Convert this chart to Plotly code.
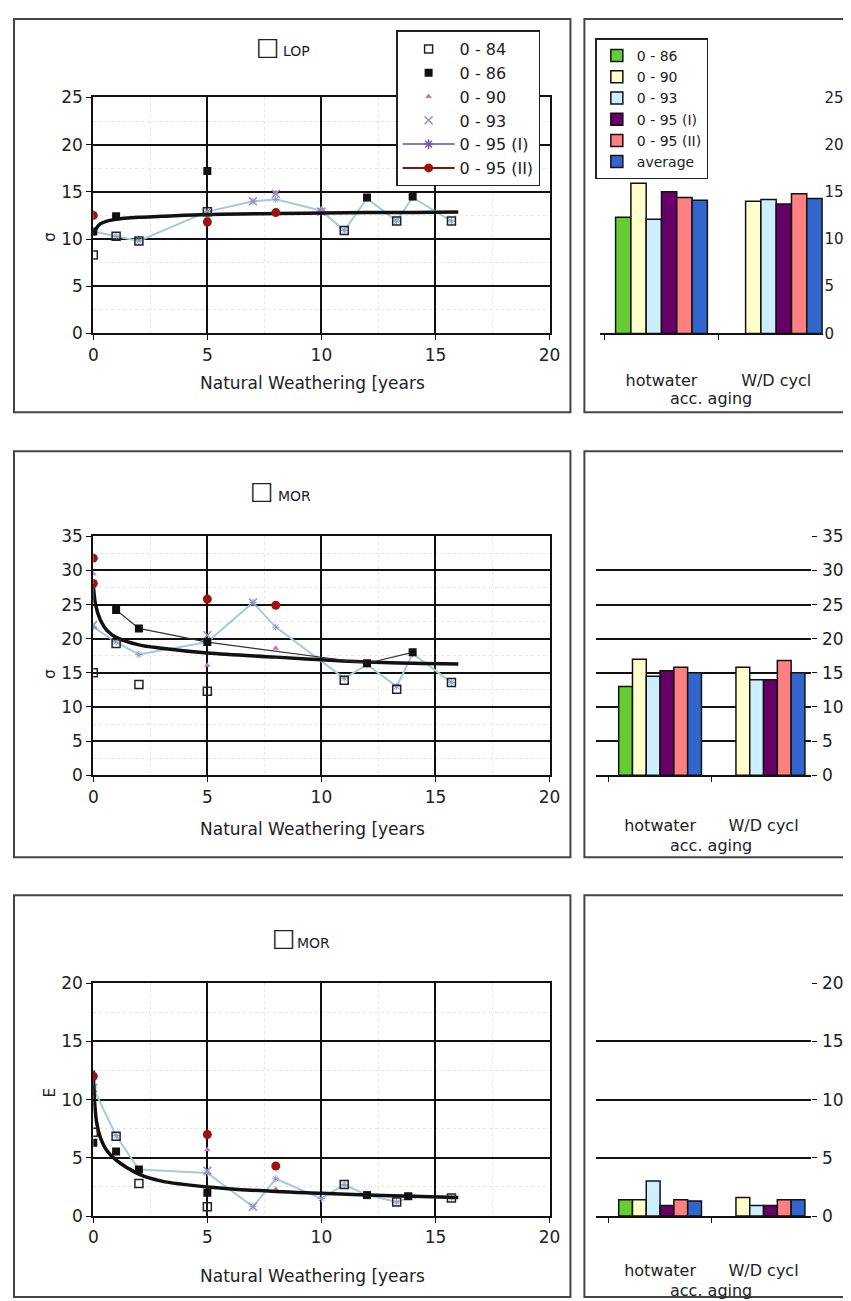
import plotly.graph_objects as go

W, H = 851, 1301
# layout positions below are written in reference-picture pixels; these helpers
# convert them to paper fractions (compensating the page offset seen in the photo)
SX, SY, OX, OY = 0.985, 0.985, 12.4, 17.5
def px(x): return ((x - OX) / SX) / W
def py(y): return 1 - ((y - OY) / SY) / H

FONT = "DejaVu Sans, Liberation Sans, Arial, sans-serif"
TXT = "#222"

# ---------------- data: row 1 (LOP) ----------------
lop_84_x = [0, 1, 2, 5, 11, 13.3, 15.7]
lop_84_y = [8.3, 10.3, 9.8, 12.9, 10.9, 11.9, 11.9]
lop_86_x = [0, 1, 5, 12, 14]
lop_86_y = [10.8, 12.4, 17.2, 14.4, 14.5]
lop_90_x = [0, 5, 8, 10]
lop_90_y = [12.8, 12.3, 14.9, 13.2]
lop_93_x = [7, 8, 10]
lop_93_y = [14.0, 14.8, 12.9]
lop_95a_x = [0, 1, 2, 5, 7, 8, 10, 11, 12, 13.3, 14, 15.7]
lop_95a_y = [10.8, 10.3, 9.8, 12.9, 14.0, 14.2, 13.0, 10.9, 14.3, 11.9, 14.4, 11.9]
lop_95b_x = [0, 5, 8]
lop_95b_y = [12.5, 11.8, 12.8]
lop_fit_x = [0, 0.1, 0.3, 0.6, 1, 2, 3, 5, 8, 10, 12, 14, 16]
lop_fit_y = [10.4, 11.0, 11.6, 11.9, 12.1, 12.3, 12.4, 12.6, 12.7, 12.75, 12.8, 12.8, 12.85]

# ---------------- data: row 2 (MOR) ----------------
mor_84_x = [0, 1, 2, 5, 11, 13.3, 15.7]
mor_84_y = [15.0, 19.3, 13.3, 12.3, 13.9, 12.6, 13.6]
mor_86_x = [1, 2, 5, 12, 14]
mor_86_y = [24.2, 21.5, 19.5, 16.4, 18.0]
mor_90_x = [0, 5, 8]
mor_90_y = [29.5, 16.1, 18.6]
mor_93_x = [0, 5, 7]
mor_93_y = [22.0, 20.5, 25.3]
mor_95a_x = [0, 1, 2, 5, 7, 8, 11, 12, 13.3, 14, 15.7]
mor_95a_y = [21.7, 19.5, 17.7, 19.5, 25.3, 21.7, 14.2, 16.2, 13.0, 17.8, 13.6]
mor_95b_x = [0, 0, 5, 8]
mor_95b_y = [31.8, 28.1, 25.8, 24.9]
mor_fit_x = [0, 0.1, 0.3, 0.6, 1, 2, 3, 5, 8, 10, 12, 14, 16]
mor_fit_y = [28.0, 25.0, 22.8, 21.2, 20.2, 19.1, 18.6, 17.9, 17.3, 16.9, 16.6, 16.4, 16.3]

# ---------------- data: row 3 (MOR, lower) ----------------
e_84_x = [0, 1, 2, 5, 11, 13.3, 15.7]
e_84_y = [7.2, 6.85, 2.8, 0.8, 2.7, 1.2, 1.55]
e_86_x = [0, 1, 2, 5, 12, 13.8]
e_86_y = [6.3, 5.55, 4.0, 2.0, 1.8, 1.7]
e_90_x = [0, 5, 8]
e_90_y = [10.5, 5.7, 2.3]
e_93_x = [0, 5, 7]
e_93_y = [11.0, 3.9, 0.8]
e_95a_x = [0, 1, 2, 5, 7, 8, 10, 11, 12, 13.3, 14, 15.7]
e_95a_y = [11.0, 6.9, 4.0, 3.7, 0.8, 3.2, 1.5, 2.7, 1.8, 1.2, 1.7, 1.55]
e_95b_x = [0, 5, 8]
e_95b_y = [12.0, 7.0, 4.3]
e_fit_x = [0, 0.05, 0.15, 0.3, 0.6, 1, 2, 3, 5, 8, 10, 12, 14, 16]
e_fit_y = [12.5, 10.0, 8.0, 6.8, 5.6, 4.8, 3.6, 3.0, 2.5, 2.1, 1.95, 1.8, 1.7, 1.6]

# ---------------- bars (accelerated ageing) ----------------
bar_cats = ["hotwater", "W/D cycl"]
bar_names = ["0 - 86", "0 - 90", "0 - 93", "0 - 95 (I)", "0 - 95 (II)", "average"]
lop_hot = [12.3, 15.9, 12.1, 15.0, 14.4, 14.1]
lop_wd = [None, 14.0, 14.2, 13.7, 14.8, 14.3]
mor_hot = [13.0, 17.0, 14.5, 15.3, 15.8, 15.0]
mor_wd = [None, 15.8, 14.0, 14.0, 16.8, 15.0]
e_hot = [1.4, 1.4, 3.0, 0.9, 1.4, 1.3]
e_wd = [None, 1.6, 0.9, 0.9, 1.4, 1.4]

series_names = ["0 - 84", "0 - 86", "0 - 90", "0 - 93", "0 - 95 (I)", "0 - 95 (II)"]
bar_colors = ["#66cc33", "#ffffcc", "#cceeff", "#660066", "#ff8080", "#3366cc"]

rows = [
    dict(s84=(lop_84_x, lop_84_y), s86=(lop_86_x, lop_86_y), s90=(lop_90_x, lop_90_y),
         s93=(lop_93_x, lop_93_y), s95a=(lop_95a_x, lop_95a_y), s95b=(lop_95b_x, lop_95b_y),
         fit=(lop_fit_x, lop_fit_y), hot=lop_hot, wd=lop_wd, ymax=25,
         top=97, bot=333, bx=(602, 826), brange=[-0.533, 1.412], bgrid=False, line86=False,
         xstand=31, ystand=0, ysize=15),
    dict(s84=(mor_84_x, mor_84_y), s86=(mor_86_x, mor_86_y), s90=(mor_90_x, mor_90_y),
         s93=(mor_93_x, mor_93_y), s95a=(mor_95a_x, mor_95a_y), s95b=(mor_95b_x, mor_95b_y),
         fit=(mor_fit_x, mor_fit_y), hot=mor_hot, wd=mor_wd, ymax=35,
         top=536, bot=775, bx=(598, 813), brange=[-0.616, 1.454], bgrid=True, line86=True,
         xstand=35, ystand=2, ysize=17),
    dict(s84=(e_84_x, e_84_y), s86=(e_86_x, e_86_y), s90=(e_90_x, e_90_y),
         s93=(e_93_x, e_93_y), s95a=(e_95a_x, e_95a_y), s95b=(e_95b_x, e_95b_y),
         fit=(e_fit_x, e_fit_y), hot=e_hot, wd=e_wd, ymax=20,
         top=983, bot=1216, bx=(598, 813), brange=[-0.616, 1.454], bgrid=True, line86=False,
         xstand=39, ystand=2, ysize=17),
]

fig = go.Figure()

# legend entries for the scatter series (legend shown in row 1)
fig.add_trace(go.Scatter(x=[None], y=[None], mode="markers", name=series_names[0], legend="legend",
                         marker=dict(symbol="square-open", size=8, color="#222", line=dict(width=1.5))))
fig.add_trace(go.Scatter(x=[None], y=[None], mode="markers", name=series_names[1], legend="legend",
                         marker=dict(symbol="square", size=8, color="#111")))
fig.add_trace(go.Scatter(x=[None], y=[None], mode="markers", name=series_names[2], legend="legend",
                         marker=dict(symbol="triangle-up", size=6, color="#d070c0")))
fig.add_trace(go.Scatter(x=[None], y=[None], mode="markers", name=series_names[3], legend="legend",
                         marker=dict(symbol="x-thin-open", size=8, color="#9a90c0", line=dict(width=1.5))))
fig.add_trace(go.Scatter(x=[None], y=[None], mode="lines+markers", name=series_names[4], legend="legend",
                         line=dict(color="#8a78c8", width=2),
                         marker=dict(symbol="asterisk-open", size=8, color="#7a5ab8", line=dict(width=1.5))))
fig.add_trace(go.Scatter(x=[None], y=[None], mode="lines+markers", name=series_names[5], legend="legend",
                         line=dict(color="#8a1010", width=2),
                         marker=dict(symbol="circle", size=9, color="#a01010")))

for i, r in enumerate(rows):
    xa = "x" if i == 0 else f"x{2*i+1}"
    ya = "y" if i == 0 else f"y{2*i+1}"
    xb = f"x{2*i+2}"
    yb = f"y{2*i+2}"
    fig.add_trace(go.Scatter(x=r["s95a"][0], y=r["s95a"][1], mode="lines+markers", showlegend=False,
                             line=dict(color="#a6cadb", width=2),
                             marker=dict(symbol="asterisk-open", size=6, color="#8a9ac8", line=dict(width=1)),
                             xaxis=xa, yaxis=ya))
    fig.add_trace(go.Scatter(x=r["s90"][0], y=r["s90"][1], mode="markers", showlegend=False,
                             marker=dict(symbol="triangle-up", size=6, color="#d070c0"), xaxis=xa, yaxis=ya))
    fig.add_trace(go.Scatter(x=r["s93"][0], y=r["s93"][1], mode="markers", showlegend=False,
                             marker=dict(symbol="x-thin-open", size=8, color="#9a90c0", line=dict(width=1.5)),
                             xaxis=xa, yaxis=ya))
    fig.add_trace(go.Scatter(x=r["fit"][0], y=r["fit"][1], mode="lines", showlegend=False,
                             line=dict(color="#111", width=3.5, shape="spline"), xaxis=xa, yaxis=ya))
    fig.add_trace(go.Scatter(x=r["s84"][0], y=r["s84"][1], mode="markers", showlegend=False,
                             marker=dict(symbol="square-open", size=8, color="#222", line=dict(width=1.5)),
                             xaxis=xa, yaxis=ya))
    fig.add_trace(go.Scatter(x=r["s86"][0], y=r["s86"][1],
                             mode="lines+markers" if r["line86"] else "markers", showlegend=False,
                             line=dict(color="#333", width=1.2),
                             marker=dict(symbol="square", size=8, color="#111"), xaxis=xa, yaxis=ya))
    fig.add_trace(go.Scatter(x=r["s95b"][0], y=r["s95b"][1], mode="markers", showlegend=False,
                             marker=dict(symbol="circle", size=9, color="#a01010"), xaxis=xa, yaxis=ya))
    for k in range(6):
        fig.add_trace(go.Bar(x=bar_cats, y=[r["hot"][k], r["wd"][k]], name=bar_names[k],
                             marker=dict(color=bar_colors[k], line=dict(color="#111", width=1.5)),
                             showlegend=(i == 0), legend="legend2", xaxis=xb, yaxis=yb))

    ydom = [py(r["bot"]), py(r["top"])]
    tick_font = dict(size=17, family=FONT, color=TXT)
    minor = dict(dtick=2.5, showgrid=True, gridcolor="#e6e6e6", griddash="dot", gridwidth=1)
    left_x = dict(domain=[px(93), px(551)], range=[0, 20], dtick=5, anchor=ya,
                  showgrid=True, gridcolor="#111", gridwidth=2,
                  showline=True, linecolor="#111", linewidth=2, mirror=True,
                  ticks="outside", ticklen=5, tickcolor="#111", zeroline=False,
                  tickfont=tick_font, minor=minor)
    left_y = dict(domain=ydom, range=[0, r["ymax"]], dtick=5, anchor=xa,
                  showgrid=True, gridcolor="#111", gridwidth=2,
                  showline=True, linecolor="#111", linewidth=2, mirror=True,
                  ticks="outside", ticklen=5, tickcolor="#111", zeroline=False,
                  tickfont=tick_font, minor=minor)
    bar_x = dict(domain=[px(r["bx"][0]), px(r["bx"][1])], range=r["brange"], anchor=yb,
                 type="category", showgrid=False, showline=True, linecolor="#111", linewidth=2,
                 ticks="outside", tickson="boundaries", ticklen=5, tickcolor="#111",
                 ticklabelstandoff=r["xstand"], tickfont=dict(size=16, family=FONT, color=TXT))
    bar_y = dict(domain=ydom, range=[0, r["ymax"]], dtick=5, anchor=xb, side="right",
                 showgrid=r["bgrid"], gridcolor="#111", gridwidth=2, zeroline=False,
                 showline=False, ticks="outside" if r["bgrid"] else "", ticklen=5, tickcolor="#111",
                 ticklabelstandoff=r["ystand"],
                 tickfont=dict(size=r["ysize"], family=FONT, color=TXT))
    ov_y = dict(domain=ydom, range=[0, r["ymax"]], dtick=5, anchor=xb, overlaying=yb, side="left",
                showgrid=False, zeroline=False, showline=True, linecolor="#111", linewidth=2,
                ticks="outside", ticklen=5, tickcolor="#111", showticklabels=False)
    n = 2 * i + 1
    fig.layout["xaxis" if i == 0 else f"xaxis{n}"] = left_x
    fig.layout["yaxis" if i == 0 else f"yaxis{n}"] = left_y
    fig.layout[f"xaxis{n+1}"] = bar_x
    fig.layout[f"yaxis{n+1}"] = bar_y
    fig.layout[f"yaxis{7+i}"] = ov_y

ann = []
def add_text(x, y, text, size, angle=0, xanchor="center"):
    ann.append(dict(x=px(x), y=py(y), xref="paper", yref="paper", text=text, showarrow=False,
                    textangle=angle, xanchor=xanchor, yanchor="middle",
                    font=dict(size=size, family=FONT, color=TXT)))

title_pos = [(268, 46, 297, 51, "LOP"), (262, 490, 295, 496, "MOR"), (284, 937, 314, 943, "MOR")]
for (bx_, by_, tx, ty, t) in title_pos:
    add_text(bx_, by_, "□", 25)
    add_text(tx, ty, t, 14)

xt_y = [383, 829, 1276]
bt_y = [398, 845, 1290]
sym_y = [236, 673, 1093]
for k in range(3):
    add_text(313, xt_y[k], "Natural Weathering [years", 17)
    add_text(713, bt_y[k], "acc. aging", 16)
    add_text(50, sym_y[k], "σ" if k < 2 else "E", 15, angle=-90)

shapes = []
frames = [(8, 412), (451, 857), (895, 1297)]
for (t, b) in frames:
    top = min(py(t), py(OY + 1))
    left = max(px(12), px(OX + 1))
    shapes.append(dict(type="rect", xref="paper", yref="paper", x0=left, x1=px(572),
                       y0=py(b), y1=top, line=dict(color="#444", width=2)))
    shapes.append(dict(type="rect", xref="paper", yref="paper", x0=px(586), x1=px(880),
                       y0=py(b), y1=top, line=dict(color="#444", width=2)))

fig.update_layout(
    width=W, height=H, margin=dict(l=0, r=0, t=0, b=0),
    paper_bgcolor="white", plot_bgcolor="white",
    barmode="group", bargap=0.2, bargroupgap=0,
    annotations=ann, shapes=shapes,
    font=dict(family=FONT, color=TXT),
    legend=dict(x=px(397), y=py(30), xanchor="left", yanchor="top", bgcolor="white",
                bordercolor="#222", borderwidth=1.5, itemwidth=52, tracegroupgap=0,
                font=dict(size=16, family=FONT, color=TXT)),
    legend2=dict(x=px(597), y=py(38), xanchor="left", yanchor="top", bgcolor="white",
                 bordercolor="#222", borderwidth=1.5, itemwidth=30, tracegroupgap=0,
                 font=dict(size=14, family=FONT, color=TXT)),
)

fig.write_html("out.html")
